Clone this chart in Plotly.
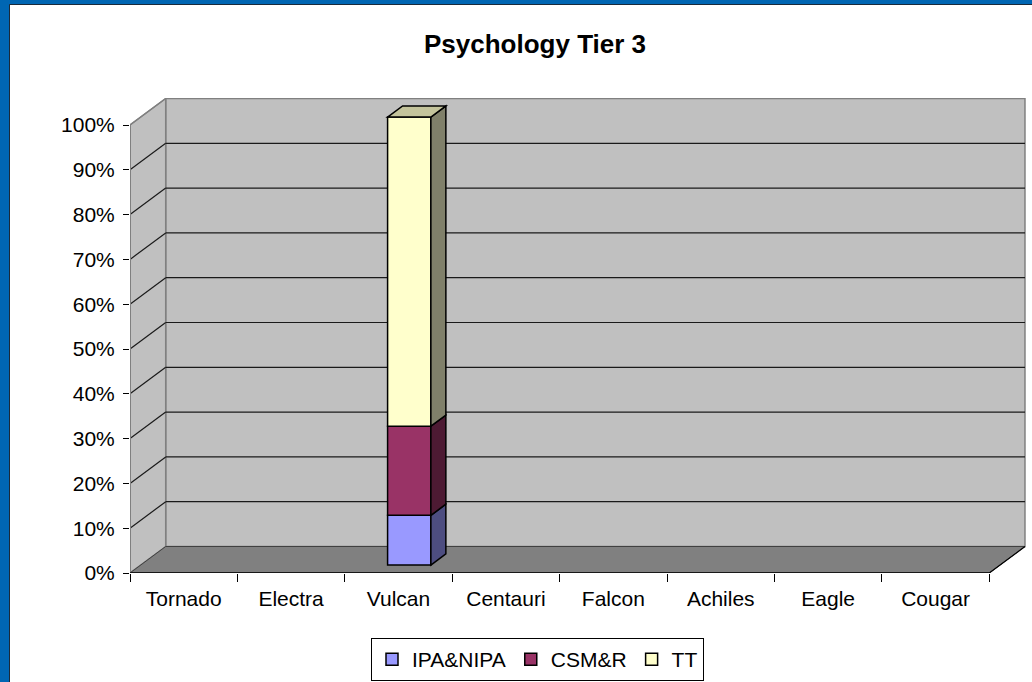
import plotly.graph_objects as go

# ---------------- data ----------------
categories = ["Tornado", "Electra", "Vulcan", "Centauri", "Falcon", "Achiles", "Eagle", "Cougar"]
series_names = ["IPA&NIPA", "CSM&R", "TT"]
ipa_nipa = [None, None, 11.1, None, None, None, None, None]
csm_r = [None, None, 19.9, None, None, None, None, None]
tt = [None, None, 69.0, None, None, None, None, None]
y_ticks = [0, 10, 20, 30, 40, 50, 60, 70, 80, 90, 100]

front_colors = ["#9999FF", "#993366", "#FFFFCC"]
side_colors = ["#4D4D80", "#4D1A33", "#80806A"]
top_colors = ["#B3B3E6", "#B35C85", "#C4C49C"]

# ---------------- layout geometry ----------------
W, H = 1032, 682
ML, MR, MT, MB = 130, 6, 98, 109
PW, PH = W - ML - MR, H - MT - MB
px_per_cat = 107.41
px_per_pct = 4.48
DEPTH_X = 35.7 / px_per_cat      # back-wall offset in category units
DEPTH_Y = 26.5 / px_per_pct      # back-wall offset in percent units
x_max = -0.5 + PW / px_per_cat
y_max = PH / px_per_pct

bar_width = 0.403
bar_f0 = 0.30   # depth fraction of bar front face
bar_f1 = 0.72   # depth fraction of bar back face
fx0, fy0 = bar_f0 * DEPTH_X, bar_f0 * DEPTH_Y
sdx, sdy = (bar_f1 - bar_f0) * DEPTH_X, (bar_f1 - bar_f0) * DEPTH_Y
bar_offset = -bar_width / 2 + fx0

n = len(categories)
all_series = [ipa_nipa, csm_r, tt]

fig = go.Figure()
shapes = []

# back wall
shapes.append(dict(type="rect", xref="x", yref="y", layer="below",
                   x0=-0.5 + DEPTH_X, x1=n - 0.5 + DEPTH_X, y0=DEPTH_Y, y1=100 + DEPTH_Y,
                   fillcolor="#C0C0C0", line=dict(color="#808080", width=1.5)))
# side wall
shapes.append(dict(type="path", xref="x", yref="y", layer="below",
                   path=f"M -0.5,0 L {-0.5 + DEPTH_X},{DEPTH_Y} L {-0.5 + DEPTH_X},{100 + DEPTH_Y} L -0.5,100 Z",
                   fillcolor="#C0C0C0", line=dict(color="#808080", width=1.5)))
# floor
shapes.append(dict(type="path", xref="x", yref="y", layer="below",
                   path=f"M -0.5,0 L {n - 0.5},0 L {n - 0.5 + DEPTH_X},{DEPTH_Y} L {-0.5 + DEPTH_X},{DEPTH_Y} Z",
                   fillcolor="#808080", line=dict(color="#404040", width=1)))
# gridlines
for v in y_ticks[1:-1]:
    shapes.append(dict(type="line", xref="x", yref="y", layer="below",
                       x0=-0.5 + DEPTH_X, x1=n - 0.5 + DEPTH_X, y0=v + DEPTH_Y, y1=v + DEPTH_Y,
                       line=dict(color="#1a1a1a", width=1.2)))
for v in y_ticks[1:]:
    shapes.append(dict(type="line", xref="x", yref="y", layer="below",
                       x0=-0.5, x1=-0.5 + DEPTH_X, y0=v, y1=v + DEPTH_Y,
                       line=dict(color="#1a1a1a" if v < 100 else "#808080", width=1.2)))
# axis lines
shapes.append(dict(type="line", xref="x", yref="y", layer="below",
                   x0=-0.5, x1=-0.5, y0=0, y1=100, line=dict(color="#808080", width=2)))
shapes.append(dict(type="line", xref="x", yref="y", layer="below",
                   x0=-0.5, x1=n - 0.5, y0=0, y1=0, line=dict(color="#000000", width=1.5)))
shapes.append(dict(type="line", xref="x", yref="y", layer="below",
                   x0=n - 0.5, x1=n - 0.5 + DEPTH_X, y0=0, y1=DEPTH_Y, line=dict(color="#000000", width=1.2)))

# bars (front faces) + 3D side/top faces computed from the data
cum = [0.0] * n
top_series = [None] * n
for si, (name, vals) in enumerate(zip(series_names, all_series)):
    bases = []
    for j, v in enumerate(vals):
        bases.append(cum[j] + fy0 if v is not None else None)
    fig.add_trace(go.Bar(
        name=name, x=categories, y=vals, base=bases,
        width=bar_width, offset=bar_offset,
        marker=dict(color=front_colors[si], line=dict(color="#000000", width=1.5)),
        hoverinfo="skip",
    ))
    for j, v in enumerate(vals):
        if v is None:
            continue
        b = cum[j] + fy0
        t = b + v
        xr = j + bar_offset + bar_width
        shapes.append(dict(type="path", xref="x", yref="y", layer="above",
                           path=f"M {xr},{b} L {xr + sdx},{b + sdy} L {xr + sdx},{t + sdy} L {xr},{t} Z",
                           fillcolor=side_colors[si], line=dict(color="#000000", width=1.5)))
        cum[j] += v
        top_series[j] = si

for j in range(n):
    si = top_series[j]
    if si is None:
        continue
    t = cum[j] + fy0
    xl = j + bar_offset
    xr = xl + bar_width
    shapes.append(dict(type="path", xref="x", yref="y", layer="above",
                       path=f"M {xl},{t} L {xl + sdx},{t + sdy} L {xr + sdx},{t + sdy} L {xr},{t} Z",
                       fillcolor=top_colors[si], line=dict(color="#000000", width=1.5)))

# slide frame (blue strips on left and top)
def px2paper_x(px):
    return (px - ML) / PW

def px2paper_y(py):
    return (H - MB - py) / PH

shapes.append(dict(type="rect", xref="paper", yref="paper", layer="below",
                   x0=px2paper_x(0), x1=px2paper_x(10), y0=px2paper_y(H), y1=px2paper_y(0),
                   fillcolor="#0066B3", line=dict(width=0)))
shapes.append(dict(type="rect", xref="paper", yref="paper", layer="below",
                   x0=px2paper_x(0), x1=px2paper_x(W), y0=px2paper_y(5), y1=px2paper_y(0),
                   fillcolor="#0066B3", line=dict(width=0)))
shapes.append(dict(type="line", xref="paper", yref="paper", layer="below",
                   x0=px2paper_x(9.5), x1=px2paper_x(9.5), y0=px2paper_y(H), y1=px2paper_y(4.5),
                   line=dict(color="#1a2a3a", width=1)))
shapes.append(dict(type="line", xref="paper", yref="paper", layer="below",
                   x0=px2paper_x(9.5), x1=px2paper_x(W), y0=px2paper_y(4.5), y1=px2paper_y(4.5),
                   line=dict(color="#1a2a3a", width=1)))

FONT = "Liberation Sans, Arial, sans-serif"
fig.update_layout(
    width=W, height=H,
    margin=dict(l=ML, r=MR, t=MT, b=MB, autoexpand=False),
    paper_bgcolor="#FFFFFF", plot_bgcolor="rgba(0,0,0,0)",
    barmode="overlay",
    shapes=shapes,
    title=dict(text="<b>Psychology Tier 3</b>", x=535 / W, xanchor="center",
               y=1 - 44 / H, yanchor="middle", xref="container", yref="container",
               font=dict(family=FONT, size=26, color="#000000")),
    font=dict(family=FONT, size=21, color="#000000"),
    xaxis=dict(type="category", categoryorder="array", categoryarray=categories,
               range=[-0.5, x_max], tickson="boundaries", ticks="outside", ticklen=8,
               tickcolor="#000000", tickwidth=1, showgrid=False, showline=False,
               zeroline=False, fixedrange=True, tickfont=dict(size=21),
               ticklabelstandoff=11),
    yaxis=dict(range=[0, y_max], tickvals=y_ticks, ticktext=[f"{v}%" for v in y_ticks],
               ticks="outside", ticklen=6, tickcolor="#000000", tickwidth=1,
               ticklabelstandoff=4, showgrid=False, showline=False, zeroline=False,
               fixedrange=True, tickfont=dict(size=21)),
    legend=dict(orientation="h", x=px2paper_x(537.5), y=px2paper_y(659.5),
                xanchor="center", yanchor="middle",
                bordercolor="#000000", borderwidth=1, bgcolor="#FFFFFF",
                font=dict(family=FONT, size=21), itemwidth=30,
                tracegroupgap=0),
    showlegend=True,
)

fig.write_html("out.html", config={"displayModeBar": False},
               post_script="document.body.style.margin='0';document.body.style.padding='0';")
